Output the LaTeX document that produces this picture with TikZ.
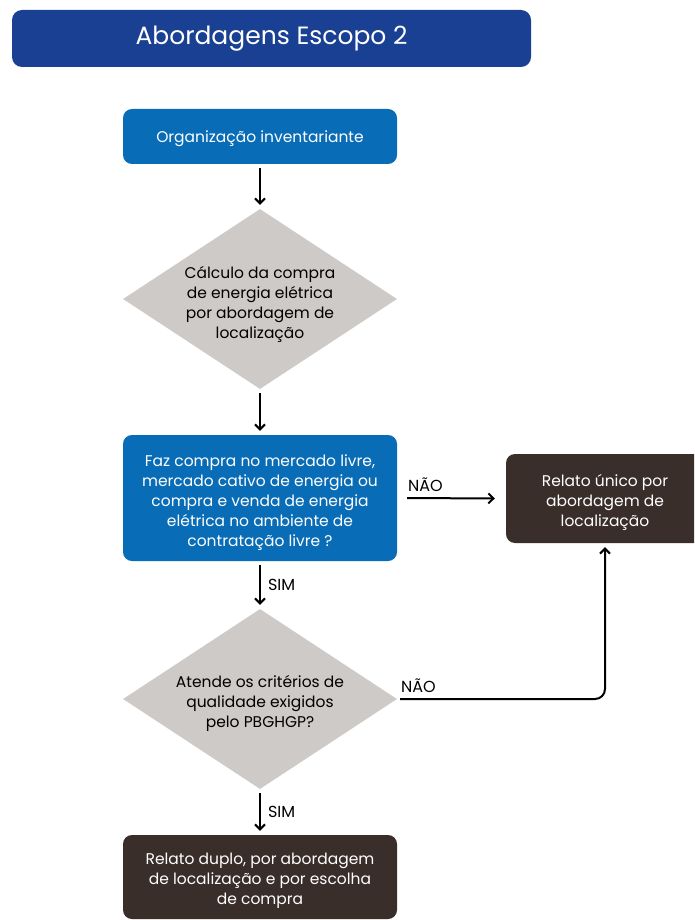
\documentclass[tikz,border=0pt]{standalone}
\usepackage{fontspec}
\setmainfont{Poppins}
\usetikzlibrary{arrows.meta,shapes.geometric,positioning}
\definecolor{titleblue}{RGB}{26,64,148}
\definecolor{stepblue}{RGB}{8,108,182}
\definecolor{decgray}{RGB}{205,202,200}
\definecolor{outbrown}{RGB}{58,46,42}
\newcommand{\bodyfont}{\fontsize{15.5}{20}\selectfont}

\begin{document}
\begin{tikzpicture}[x=1pt,y=-1pt,>={Straight Barb[length=5pt,width=10pt]},
  procbox/.style={fill=stepblue,rounded corners=9pt,minimum width=274pt,inner sep=0pt},
  outbox/.style={fill=outbrown,rounded corners=9pt,inner sep=0pt},
  decision/.style={diamond,fill=decgray,inner sep=0pt,
    minimum width=274pt,minimum height=180pt},
  boxtext/.style={text=white,align=center,font=\bodyfont,inner sep=0pt},
  dectext/.style={align=center,font=\bodyfont,inner sep=0pt},
  flow/.style={->,line width=2pt,shorten <=4pt,shorten >=4pt},
  answer/.style={font=\fontsize{16}{18}\selectfont,inner sep=2pt}]
  \clip (0,0) rectangle (694,920);
  % title
  \node[fill=titleblue,text=white,rounded corners=10pt,minimum width=519pt,
    minimum height=57pt,font=\fontsize{25}{30}\selectfont] (title) at (271.5,38.5) {Abordagens Escopo 2};
  % main column
  \node[procbox,minimum height=55pt] (org) at (260,136.5) {};
  \node[decision] (calc) at (260,299) {};
  \node[procbox,minimum height=126pt] (mercado) at (260,498) {};
  \node[decision] (crit) at (260,699) {};
  \node[outbox,minimum width=274pt,minimum height=84pt] (duplo) at (260,877) {};
  % side result
  \node[outbox,minimum width=198pt,minimum height=89pt] (unico) at (605,498.5) {};
  % texts
  \node[boxtext] (orgtxt) at ([yshift=-2pt]org.center) {Organização inventariante};
  \node[dectext] (calctxt) at ([yshift=-5pt]calc.center) {Cálculo da compra\\de energia elétrica\\por abordagem de\\localização};
  \node[boxtext] (mercadotxt) at ([yshift=-5pt]mercado.center) {Faz compra no mercado livre,\\mercado cativo de energia ou\\compra e venda de energia\\elétrica no ambiente de\\contratação livre ?};
  \node[dectext] (crittxt) at ([yshift=-4pt]crit.center) {Atende os critérios de\\qualidade exigidos\\pelo PBGHGP?};
  \node[boxtext] (duplotxt) at ([yshift=-4pt]duplo.center) {Relato duplo, por abordagem\\de localização e por escolha\\de compra};
  \node[boxtext] (unicotxt) at ([yshift=-4pt]unico.center) {Relato único por\\abordagem de\\localização};
  % connectors
  \draw[flow] (org) -- (calc);
  \draw[flow] (calc) -- (mercado);
  \draw[flow] (mercado) -- node[answer,right=5pt] {SIM} (crit);
  \draw[flow] (crit) -- node[answer,right=5pt] {SIM} (duplo);
  \draw[flow,shorten <=10pt,shorten >=11pt] (mercado.east) -- node[answer,pos=0,above right=3pt and 8pt] {NÃO} (unico.west);
  \draw[flow,shorten <=3pt,rounded corners=10pt] (crit.east) -| node[answer,pos=0,above right=3pt and 1pt] {NÃO} (unico.south);
\end{tikzpicture}
\end{document}
